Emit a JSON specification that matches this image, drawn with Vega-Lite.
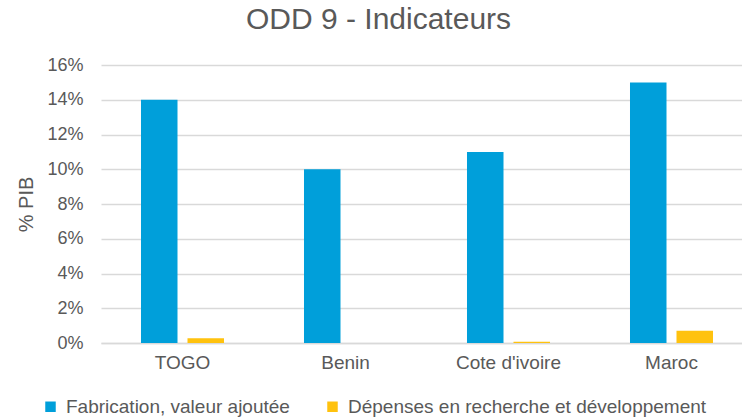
{
  "$schema": "https://vega.github.io/schema/vega-lite/v6.json",
  "width": 641,
  "height": 278,
  "autosize": {"type": "none"},
  "padding": {"left": 101, "top": 65, "right": 0, "bottom": 77},
  "background": "white",
  "config": {"view": {"stroke": null}, "font": "Liberation Sans"},
  "title": {
    "text": "ODD 9 - Indicateurs",
    "anchor": "start",
    "dx": 229,
    "offset": 21,
    "fontSize": 30,
    "font": "Liberation Sans",
    "fontWeight": "normal",
    "color": "#595959"
  },
  "data": {
    "values": [
      {"pays": "TOGO", "indicateur": "Fabrication, valeur ajoutée", "valeur": 0.14},
      {"pays": "TOGO", "indicateur": "Dépenses en recherche et développement", "valeur": 0.0028},
      {"pays": "Benin", "indicateur": "Fabrication, valeur ajoutée", "valeur": 0.10},
      {"pays": "Benin", "indicateur": "Dépenses en recherche et développement", "valeur": 0.0},
      {"pays": "Cote d'ivoire", "indicateur": "Fabrication, valeur ajoutée", "valeur": 0.11},
      {"pays": "Cote d'ivoire", "indicateur": "Dépenses en recherche et développement", "valeur": 0.0007},
      {"pays": "Maroc", "indicateur": "Fabrication, valeur ajoutée", "valeur": 0.15},
      {"pays": "Maroc", "indicateur": "Dépenses en recherche et développement", "valeur": 0.0071}
    ]
  },
  "mark": {"type": "bar"},
  "encoding": {
    "x": {
      "field": "pays",
      "type": "nominal",
      "sort": null,
      "scale": {"range": [0, 652], "paddingInner": 0, "paddingOuter": 0},
      "axis": {
        "title": null,
        "labelAngle": 0,
        "labelFontSize": 19,
        "labelColor": "#595959",
        "labelPadding": 10,
        "ticks": false,
        "domainColor": "#D9D9D9",
        "domainWidth": 1.5
      }
    },
    "xOffset": {
      "field": "indicateur",
      "type": "nominal",
      "sort": ["Fabrication, valeur ajoutée", "Dépenses en recherche et développement"],
      "scale": {"paddingInner": 0.215, "paddingOuter": 0.86}
    },
    "y": {
      "field": "valeur",
      "type": "quantitative",
      "scale": {"domain": [0, 0.16], "nice": false},
      "axis": {
        "title": "% PIB",
        "titleFontSize": 20,
        "titleFontWeight": "normal",
        "titleColor": "#595959",
        "titlePadding": 10,
        "values": [0, 0.02, 0.04, 0.06, 0.08, 0.1, 0.12, 0.14, 0.16],
        "format": ".0%",
        "labelFontSize": 18,
        "labelColor": "#595959",
        "labelPadding": 18,
        "ticks": false,
        "domain": false,
        "gridColor": "#D9D9D9",
        "gridWidth": 1.5
      }
    },
    "color": {
      "field": "indicateur",
      "type": "nominal",
      "scale": {
        "domain": ["Fabrication, valeur ajoutée", "Dépenses en recherche et développement"],
        "range": ["#009FDA", "#FFC20E"]
      },
      "legend": {
        "orient": "none",
        "legendX": -60,
        "legendY": 332,
        "direction": "horizontal",
        "title": null,
        "symbolType": "square",
        "symbolSize": 110,
        "symbolStrokeWidth": 0,
        "labelFontSize": 19,
        "labelColor": "#595959",
        "labelOffset": 6,
        "columnPadding": 33,
        "labelLimit": 500
      }
    }
  }
}
